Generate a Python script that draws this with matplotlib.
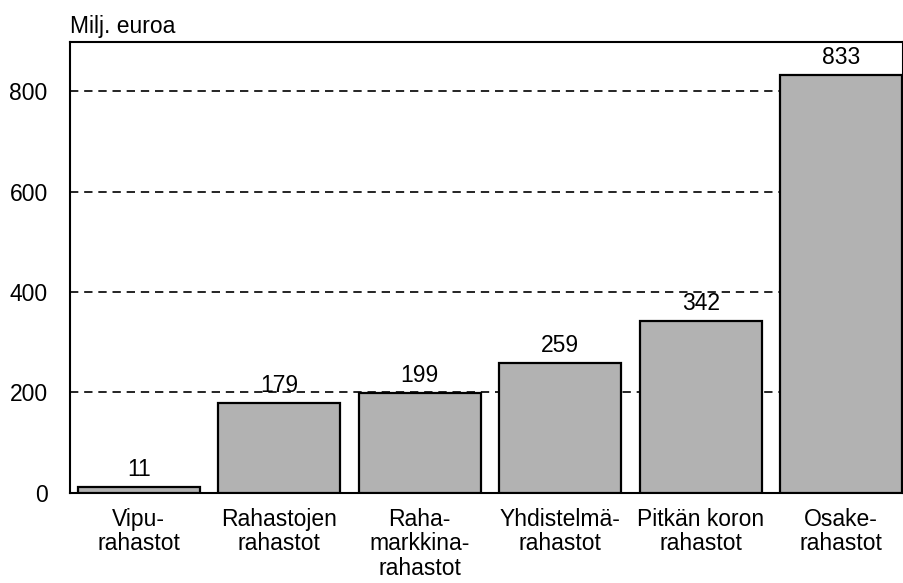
import matplotlib
matplotlib.use('Agg')
import matplotlib.pyplot as plt

plt.rcParams['font.family'] = ['Liberation Sans', 'DejaVu Sans']

# data
categories = ['Vipu-\nrahastot', 'Rahastojen\nrahastot', 'Raha-\nmarkkina-\nrahastot',
              'Yhdistelmä-\nrahastot', 'Pitkän koron\nrahastot', 'Osake-\nrahastot']
values = [11, 179, 199, 259, 342, 833]
yticks = [0, 200, 400, 600, 800]

fig = plt.figure(figsize=(9.04, 5.83), dpi=100)
ax = fig.add_axes([0.0774, 0.155, 0.9216, 0.773])

x = list(range(len(values)))
bars = ax.bar(x, values, width=0.87, color='#b2b2b2', edgecolor='black', linewidth=1.6, zorder=3)

for xi, v in zip(x, values):
    ax.text(xi, v + 12, str(v), ha='center', va='bottom', fontsize=16.5, color='black', zorder=4)

ax.set_xlim(-0.49, 5.44)
ax.set_ylim(0, 898)
ax.set_yticks(yticks)
ax.set_yticklabels([str(t) for t in yticks], fontsize=16.5)
ax.set_xticks(x)
ax.set_xticklabels(categories, fontsize=16.5, linespacing=1.08)
ax.tick_params(axis='both', length=0)
ax.tick_params(axis='y', pad=16)
ax.tick_params(axis='x', pad=11)

for t in yticks[1:]:
    ax.axhline(t, color='black', linestyle=(0, (5, 3.5)), linewidth=1.2, zorder=1)

for s in ax.spines.values():
    s.set_linewidth(1.5)

fig.text(0.0774, 0.935, 'Milj. euroa', fontsize=16.5, ha='left', va='bottom')

fig.savefig('out.png', dpi=100)
